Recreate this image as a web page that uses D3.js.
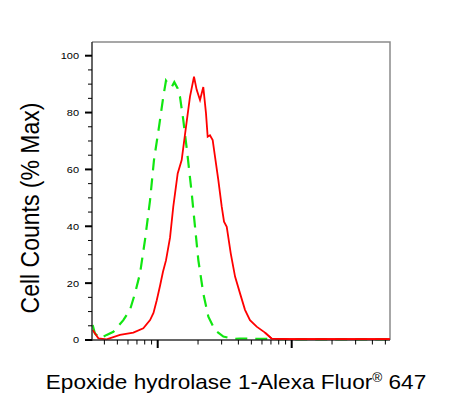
<!DOCTYPE html>
<html><head><meta charset="utf-8">
<script src="https://cdn.jsdelivr.net/npm/d3@7"></script>
<style>body{margin:0;background:#fff}svg{display:block}text{font-family:"Liberation Sans",Arial,sans-serif;fill:#000}</style>
</head><body>
<svg id="c" width="461" height="407"></svg>
<script>
// Sample (red, solid) histogram: fluorescence intensity vs % max
const redX = [327,361,416,523,658,781,877,930,984,1040,1095,1153,1236,1307,1410,1510,1626,1742,1866,1954,2069,2189,2293,2360,2455,2572,2677,2833,3005,3126,3275,3508,3778,4115,4482,4883,5477,6321,7093,9703,19300,54000];
const redY = [3.5,0.6,0.2,1.8,2.6,4.1,7,9.5,14,19,24,28,36,46.9,58.6,63.3,75,85.6,92.6,88,84.4,89,79.7,71.5,72,70.3,64.5,56.3,46.9,41.6,39.8,30.5,22.3,16.4,10.6,7,4.7,2.6,0.5,0.3,0.3,0.3];
// Control (green, dashed) histogram
const greenX = [327,340,371,416,467,554,621,677,738,804,877,938,1023,1101,1153,1200,1271,1330,1410,1466,1552,1663,1794,1899,2010,2189,2388,2677,3090,3664,4115,11530,54000];
const greenY = [5.3,2.3,0.6,1.8,2.9,7,10.6,16.4,23.4,35.2,49.2,63.3,75,85.6,91.2,90,89,90.7,88.5,85.6,77.4,65.7,51.6,39.8,28.1,16.4,8.2,3.5,1.2,0.4,0.5,0.2,0.2];
const yTickLabels = [0,20,40,60,80,100];
const yMinorTicks = d3.range(0,105,5);
const xMajorTicks = [1000,10000];
const xTitle = "Epoxide hydrolase 1-Alexa Fluor";
const xTitleTail = " 647";
const yTitle = "Cell Counts (% Max)";

const svg = d3.select("#c");
const L=92, R=390, T=42, B=340;
const x = d3.scaleLog().domain([10**(3-(157.7-L)/134), 10**(3+(R-157.7)/134)]).range([L,R]);
const y = d3.scaleLinear().domain([0,(B-T)/((B-55.7)/100)]).range([B,T]);

const xMinor = [];
for (let e=2;e<=4;e++) for (let k=2;k<=9;k++){const v=k*10**e; if(v>=x.domain()[0]&&v<=x.domain()[1]) xMinor.push(v);}

svg.append("path").attr("d",`M${L},${T}H${R}V${B}`).attr("fill","none").attr("stroke","#8a8a8a").attr("stroke-width",1.5);

const line = d3.line().x(d=>x(d[0])).y(d=>y(d[1])).curve(d3.curveLinear);
svg.append("path").datum(greenX.map((v,i)=>[v,greenY[i]])).attr("d",line)
  .attr("fill","none").attr("stroke","#11e611").attr("stroke-width",2.2).attr("stroke-dasharray","12,8");
svg.append("path").datum(redX.map((v,i)=>[v,redY[i]])).attr("d",line)
  .attr("fill","none").attr("stroke","#ff0000").attr("stroke-width",1.8);

const gy = svg.append("g");
gy.append("line").attr("x1",L).attr("x2",L).attr("y1",T).attr("y2",B+1).attr("stroke","#333").attr("stroke-width",1.5);
gy.selectAll(".mn").data(yMinorTicks.filter(v=>v%20)).join("line")
  .attr("x1",L-4).attr("x2",L).attr("y1",d=>y(d)).attr("y2",d=>y(d)).attr("stroke","#000").attr("stroke-width",1);
gy.selectAll(".mj").data(yTickLabels).join("line")
  .attr("x1",L-7).attr("x2",L).attr("y1",d=>y(d)).attr("y2",d=>y(d)).attr("stroke","#000").attr("stroke-width",2);
gy.selectAll("text").data(yTickLabels).join("text")
  .attr("transform",d=>`translate(${L-13},${y(d)}) scale(1.12,1)`).attr("dy","0.35em")
  .attr("text-anchor","end").attr("font-size",9.8).text(d=>d);

const gx = svg.append("g");
gx.append("line").attr("x1",L).attr("x2",R).attr("y1",B).attr("y2",B).attr("stroke","#333").attr("stroke-width",1.5);
gx.selectAll(".mn").data(xMinor).join("line")
  .attr("x1",d=>x(d)).attr("x2",d=>x(d)).attr("y1",B).attr("y2",B+4.5).attr("stroke","#000").attr("stroke-width",1);
gx.selectAll(".mj").data(xMajorTicks).join("line")
  .attr("x1",d=>x(d)).attr("x2",d=>x(d)).attr("y1",B).attr("y2",B+8).attr("stroke","#000").attr("stroke-width",2);
svg.append("path").datum(redX.map((v,i)=>[v,redY[i]]).filter(d=>d[0]>6000)).attr("d",line)
  .attr("fill","none").attr("stroke","#ff0000").attr("stroke-width",1.8);

const xt = svg.append("text").attr("transform","translate(236,389) scale(1.13,1)").attr("text-anchor","middle").attr("font-size",20);
xt.append("tspan").text(xTitle);
xt.append("tspan").attr("font-size",12).attr("dy",-7).text("®");
xt.append("tspan").attr("dy",7).text(xTitleTail);

svg.append("text").attr("transform","translate(39,208) scale(1.13,1) rotate(-90)").attr("text-anchor","middle")
  .attr("font-size",23).text(yTitle);
</script>
</body></html>
